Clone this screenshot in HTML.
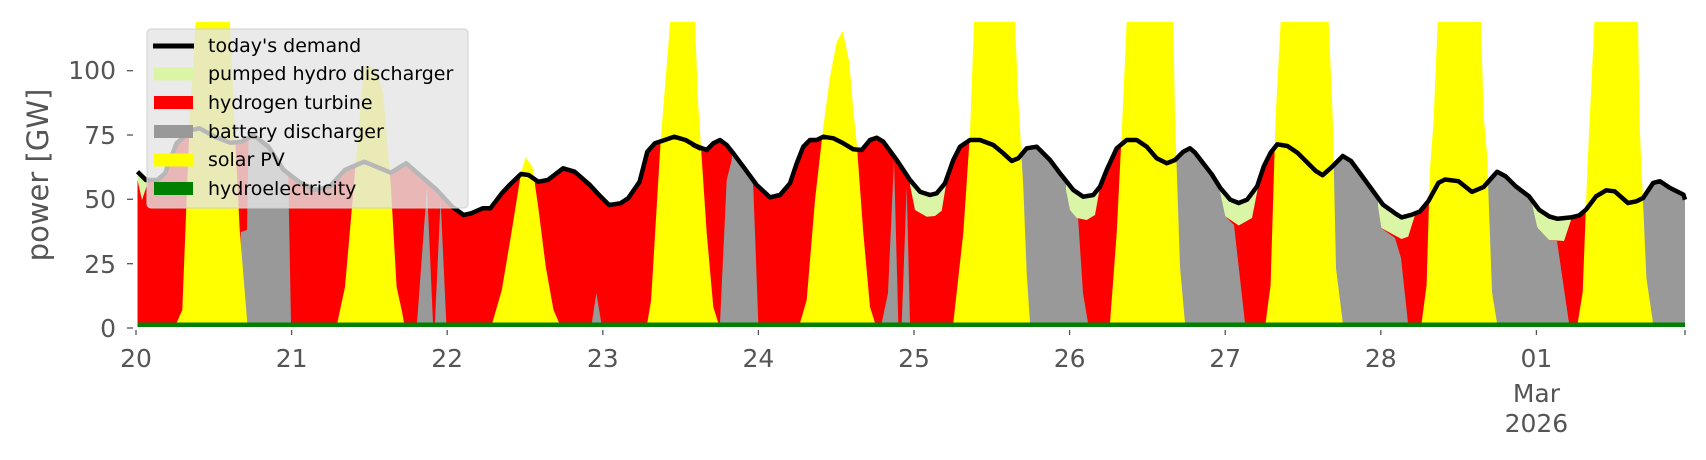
<!DOCTYPE html>
<html><head><meta charset="utf-8"><style>
html,body{margin:0;padding:0;background:#fff;}
svg{display:block;font-family:"DejaVu Sans","Liberation Sans",sans-serif;}
</style></head><body>
<svg id="s" width="1706" height="460" viewBox="0 0 1706 460" xmlns="http://www.w3.org/2000/svg">
<defs><clipPath id="dc"><polygon id="dcp"/></clipPath></defs>
<g id="plot"></g>
<g fill="#555" font-size="25" text-anchor="end">
<text x="116" y="337">0</text><text x="116" y="273">25</text><text x="116" y="208">50</text><text x="116" y="144">75</text><text x="116" y="79">100</text>
</g>
<g stroke="#555" stroke-width="1.3">
<line x1="127" y1="328" x2="133" y2="328"/><line x1="127" y1="263.7" x2="133" y2="263.7"/><line x1="127" y1="199.3" x2="133" y2="199.3"/><line x1="127" y1="135" x2="133" y2="135"/><line x1="127" y1="70.7" x2="133" y2="70.7"/>
<line x1="136" y1="330" x2="136" y2="335"/><line x1="291.6" y1="330" x2="291.6" y2="335"/><line x1="447.2" y1="330" x2="447.2" y2="335"/><line x1="602.8" y1="330" x2="602.8" y2="335"/><line x1="758.4" y1="330" x2="758.4" y2="335"/><line x1="914" y1="330" x2="914" y2="335"/><line x1="1069.6" y1="330" x2="1069.6" y2="335"/><line x1="1225.2" y1="330" x2="1225.2" y2="335"/><line x1="1380.8" y1="330" x2="1380.8" y2="335"/><line x1="1536.4" y1="330" x2="1536.4" y2="335"/><line x1="1685" y1="330" x2="1685" y2="335"/>
</g>
<g fill="#555" font-size="25" text-anchor="middle">
<text x="136" y="367">20</text><text x="291.6" y="367">21</text><text x="447.2" y="367">22</text><text x="602.8" y="367">23</text><text x="758.4" y="367">24</text><text x="914" y="367">25</text><text x="1069.6" y="367">26</text><text x="1225.2" y="367">27</text><text x="1380.8" y="367">28</text><text x="1536.4" y="367">01</text><text x="1536.4" y="402">Mar</text><text x="1536.4" y="432">2026</text>
</g>
<text transform="translate(48,175) rotate(-90)" fill="#555" font-size="29" text-anchor="middle">power [GW]</text>
<g>
<rect x="147" y="29" width="321" height="179" rx="4" fill="#e5e5e5" fill-opacity="0.8" stroke="#d0d0d0"/>
<line x1="153" y1="46" x2="194" y2="46" stroke="#000" stroke-width="5"/>
<rect x="154" y="67.5" width="39" height="13" fill="#d9f5a5"/>
<rect x="154" y="96" width="39" height="13" fill="#ff0000"/>
<rect x="154" y="125" width="39" height="13" fill="#999999"/>
<rect x="154" y="153.5" width="39" height="13" fill="#ffff00"/>
<rect x="154" y="182" width="39" height="13" fill="#008000"/>
<g font-size="19" fill="#000">
<text x="208" y="52">today's demand</text>
<text x="208" y="80">pumped hydro discharger</text>
<text x="208" y="109">hydrogen turbine</text>
<text x="208" y="138">battery discharger</text>
<text x="208" y="166">solar PV</text>
<text x="208" y="195">hydroelectricity</text>
</g>
</g>
<script>
(function(){
var z1=[[98,515],[120,540],[150,540],[170,520],[200,430],[240,390],[260,385],[300,410],[340,428],[370,425],[400,405],[440,440],[480,510],[520,545],[560,570],[600,560],[640,510],[690,485],[760,518],[800,490],[850,540],[880,570],[920,620],[950,645],[970,640],[1000,625],[1020,625],[1050,580],[1070,555],[1100,522],[1120,525],[1145,545],[1170,540],[1210,505],[1240,515],[1280,555],[1300,580],[1330,615],[1360,610],[1380,595],[1410,545],[1430,455],[1450,430],[1470,422],[1500,410],[1530,420],[1568,445]];
var z2=[[10,435],[50,450],[70,430],[90,420],[110,435],[130,460],[160,500],[200,555],[240,592],[270,585],[300,550],[320,490],[340,440],[360,420],[380,420],[400,410],[430,415],[460,430],[490,448],[515,450],[540,420],[560,413],[580,425],[620,480],[660,540],[690,575],[720,585],[740,580],[765,550],[790,480],[810,440],[840,420],[870,420],[910,435],[940,460],[965,483],[985,475],[1010,445],[1040,440],[1080,480],[1110,520],[1150,570],[1180,590],[1210,585],[1230,560],[1250,510],[1280,445],[1310,420],[1340,420],[1370,440],[1400,475],[1430,490],[1455,480],[1480,455],[1500,445]];
var z3=[[45,455],[95,520],[120,560],[150,595],[175,605],[200,595],[230,555],[250,495],[270,455],[290,430],[320,435],[350,455],[405,510],[425,522],[450,500],[485,465],[510,480],[550,535],[605,610],[640,635],[660,648],[690,640],[715,630],[740,600],[770,545],[790,535],[830,540],[870,572],[905,557],[945,512],[970,525],[1000,555],[1040,585],[1070,625],[1100,645],[1125,652],[1165,648],[1190,642],[1210,625],[1240,585],[1270,567],[1295,570],[1335,605],[1360,600],[1380,590],[1410,545],[1430,540],[1460,560],[1500,580],[1505,595]];
var d=[];
z1.forEach(function(p){d.push([100+p[0]/2.613,p[1]/3]);});
z2.forEach(function(p){d.push([690+p[0]/3,p[1]/3]);});
z3.forEach(function(p){d.push([1180+p[0]/2.98,p[1]/2.98]);});
d[d.length-1][0]=1685;
var B=323;
function pts(a){return a.map(function(p){return p[0].toFixed(1)+","+p[1].toFixed(1);}).join(" ");}
var area=d.concat([[1685,B],[137.5,B]]);
document.getElementById("dcp").setAttribute("points",pts(area));
var g=document.getElementById("plot"),NS="http://www.w3.org/2000/svg";
function poly(a,fill,clip){var e=document.createElementNS(NS,"polygon");e.setAttribute("points",pts(a));e.setAttribute("fill",fill);if(clip)e.setAttribute("clip-path","url(#dc)");g.appendChild(e);return e;}
poly(area,"#ff0000");
var G="#999999";
[
[[240.8,B],[240.8,232],[247,230],[251,0],[285,0],[291,B]],
[[417,B],[427,187],[433,B]],
[[434.9,B],[440.6,200],[446.3,B]],
[[591.8,B],[596.4,293],[601.3,B]],
[[720,B],[726.7,180],[731.7,160],[735,0],[750,0],[753.3,187],[758.3,B]],
[[881.7,B],[888,293],[894,160],[898.3,B]],
[[901.7,B],[906.7,187],[910,B]],
[[1012,B],[1012,0],[1066,0],[1070,187],[1078,217],[1083,293],[1088,B]],
[[1168,B],[1168,0],[1220,0],[1225,216],[1234,225],[1245,B]],
[[1328,B],[1328,0],[1377,0],[1381,228],[1395,238],[1401,258],[1408,B]],
[[1480,B],[1480,0],[1532,0],[1537,228],[1549,240],[1557,241],[1569,B]],
[[1640,B],[1640,0],[1686,0],[1686,B]]
].forEach(function(a){poly(a,G,true);});
var P="#d9f5a5";
[
[[137.5,0],[137.5,180],[142,200],[148,182],[150,0]],
[[908,0],[910,185],[915,210],[926.7,216.7],[935,216],[941.7,210.7],[946,185],[948,0]],
[[1064,0],[1066,190],[1070,210],[1076.7,218],[1086.7,220],[1095,215],[1100,187],[1102,0]],
[[1218,0],[1220.3,193],[1225.3,216.4],[1238.7,225.5],[1252,218],[1257.9,188],[1260,0]],
[[1376,0],[1378,206],[1381.3,228],[1401.5,239],[1408.2,236.6],[1415,215],[1417,0]],
[[1530,0],[1532.3,205],[1537.4,228],[1549,240],[1564,241],[1571,220],[1573,0]]
].forEach(function(a){poly(a,P,true);});
var Y="#ffff00";
[
[[176.5,B],[182.3,310],[190,113],[195.7,22],[230,22],[234,113],[239.7,230],[245.4,300],[247.3,B]],
[[337.3,B],[345,287],[352.6,200],[364,67],[369.8,66],[375.5,70],[383.2,93],[390.9,187],[396.6,287],[402.3,313],[404,B]],
[[492.3,B],[501.8,290],[511.4,233],[521,173],[525.6,157],[532.5,167],[538.2,207],[545.8,267],[553.5,310],[559.2,B]],
[[647.3,B],[651.1,300],[660.7,140],[670.2,22],[695,22],[698.3,107],[706.7,233],[713.3,307],[718.3,B]],
[[800,B],[806.7,300],[815,200],[823.3,127],[830,77],[836.7,42],[842.7,31],[849.3,62],[853.3,110],[856.7,143],[863.3,233],[870,307],[875,B]],
[[953.3,B],[963.3,233],[970,133],[974,22],[1015,22],[1018.3,100],[1023.3,187],[1026.7,273],[1030,B]],
[[1110,B],[1116.7,233],[1121.7,133],[1126.7,22],[1173.3,22],[1175,117],[1180,267],[1185,B]],
[[1265.6,B],[1270.6,285],[1275.6,117],[1280.7,22],[1328.7,22],[1332.7,117],[1336,268],[1342.8,B]],
[[1421.6,B],[1426.6,285],[1430,168],[1433.4,124],[1437.7,22],[1481,22],[1483.7,117],[1487,154],[1492,292],[1497,B]],
[[1577.7,B],[1582.7,292],[1587.7,161],[1594.4,22],[1638,22],[1639.7,127],[1646.4,278],[1653,B]]
].forEach(function(a){poly(a,Y,false);});
var h=document.createElementNS(NS,"rect");h.setAttribute("x","137.5");h.setAttribute("y","322.5");h.setAttribute("width","1547.5");h.setAttribute("height","4.5");h.setAttribute("fill","#008000");g.appendChild(h);
var l=document.createElementNS(NS,"polyline");l.setAttribute("points",pts(d));l.setAttribute("fill","none");l.setAttribute("stroke","#000");l.setAttribute("stroke-width","4.5");l.setAttribute("stroke-linejoin","round");g.appendChild(l);
})();
</script>
</svg>
</body></html>
